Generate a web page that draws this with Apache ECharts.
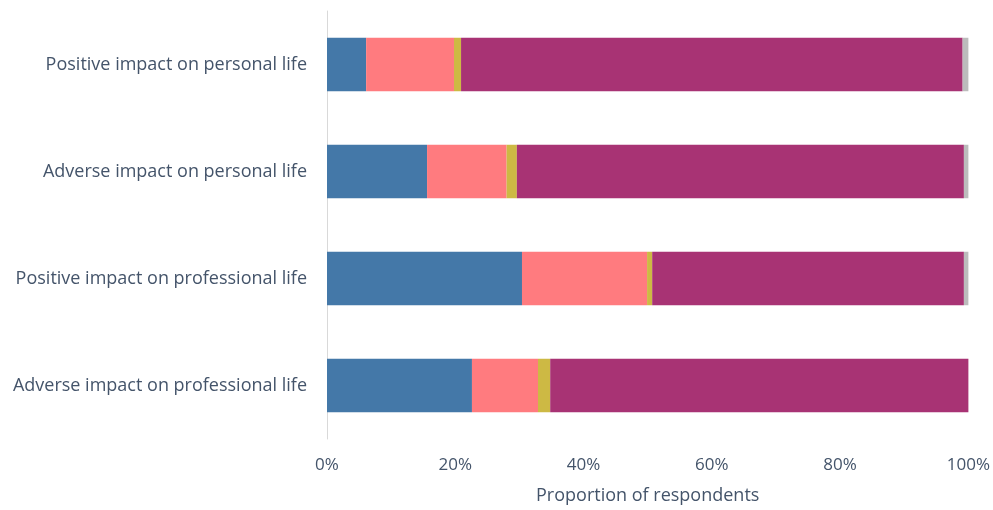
<!DOCTYPE html>
<html>
<head>
<meta charset="utf-8">
<script src="https://cdn.jsdelivr.net/npm/echarts@6/dist/echarts.min.js"></script>
<style>
  html, body { margin: 0; padding: 0; background: #fff; }
  #chart { width: 993px; height: 510px; }
</style>
</head>
<body>
<div id="chart"></div>
<script>
// categories, top to bottom as in the picture
const categories = [
  'Positive impact on personal life',
  'Adverse impact on personal life',
  'Positive impact on professional life',
  'Adverse impact on professional life'
]
const tickLabels = ['0%', '20%', '40%', '60%', '80%', '100%']

// proportions (%), one array per segment
const segBlue   = [6.1, 15.6, 30.4, 22.6]
const segSalmon = [13.7, 12.4, 19.5, 10.3]
const segYellow = [1.1, 1.6, 0.8, 1.9]
const segPurple = [78.2, 69.7, 48.6, 65.2]
const segGrey   = [0.9, 0.7, 0.7, 0]

const colors = ['#4478a8', '#ff7b7f', '#cdb944', '#a83374', '#bcbcbc']
const segs = [segBlue, segSalmon, segYellow, segPurple, segGrey]

const textColor = '#44546a'
const font = 'Open Sans'

const chart = echarts.init(document.getElementById('chart'))

const option = {
  animation: false,
  grid: { left: 327, right: 23, top: 11, bottom: 67 },
  xAxis: {
    type: 'value',
    min: 0,
    max: 100,
    interval: 20,
    name: 'Proportion of respondents',
    nameLocation: 'middle',
    nameGap: 48,
    nameTextStyle: { color: textColor, fontSize: 18, fontFamily: font },
    axisLine: { show: false },
    axisTick: { show: false },
    splitLine: { show: false },
    axisLabel: {
      color: textColor, fontSize: 17, fontFamily: font, margin: 18,
      formatter: (v) => tickLabels[Math.round(v / 20)]
    }
  },
  yAxis: {
    type: 'category',
    inverse: true,
    data: categories,
    axisLine: { show: true, lineStyle: { color: '#d9d9d9', width: 1 } },
    axisTick: { show: false },
    axisLabel: { color: textColor, fontSize: 18, fontFamily: font, margin: 20 }
  },
  series: segs.map((d, i) => ({
    type: 'bar',
    stack: 'total',
    barWidth: '50%',
    data: d,
    itemStyle: { color: colors[i] }
  }))
}

chart.setOption(option)
</script>
</body>
</html>
